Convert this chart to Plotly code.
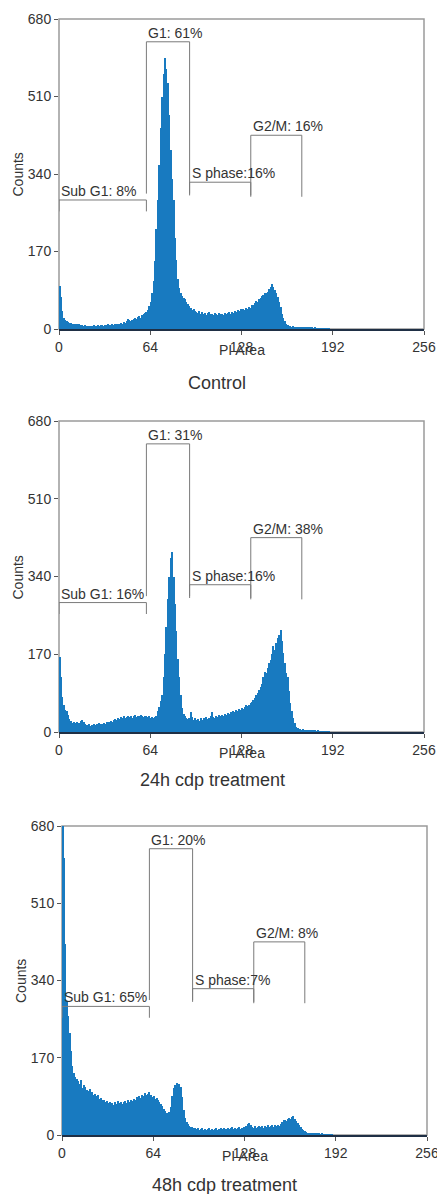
import plotly.graph_objects as go

# ---------------- data ----------------
control_counts = [
    95, 70, 40, 25, 20, 17, 15, 14, 13, 12, 12, 10, 11, 9, 10, 8, 9, 7, 8, 6,
    7, 6, 7, 6, 8, 7, 6, 8, 7, 9, 8, 7, 9, 8, 10, 9, 8, 10, 9, 11,
    10, 12, 11, 13, 12, 15, 14, 18, 22, 20, 17, 19, 22, 24, 21, 26, 28, 25, 30, 33,
    36, 38, 42, 50, 60, 78, 105, 150, 220, 283, 360, 440, 510, 560, 595, 570, 539, 470, 393, 330,
    283, 200, 151, 110, 90, 80, 72, 68, 66, 60, 55, 50, 45, 42, 44, 40, 38, 36, 40, 34,
    37, 33, 36, 31, 35, 38, 32, 34, 30, 36, 33, 31, 35, 32, 34, 30, 36, 33, 35, 37,
    34, 38, 36, 40, 37, 41, 39, 43, 40, 44, 42, 46, 43, 48, 45, 52, 53, 58, 62, 60,
    65, 67, 72, 75, 78, 80, 82, 88, 92, 98, 93, 85, 78, 71, 60, 48, 34, 25, 18, 12,
    9, 7, 6, 5, 6, 5, 4, 5, 4, 5, 4, 4, 3, 4, 3, 4, 3, 3, 2, 3,
    2, 2, 2, 1, 2, 1, 1, 1, 1, 1,
]

h24_counts = [
    165, 120, 77, 60, 48, 45, 38, 28, 23, 20, 22, 19, 21, 18, 20, 24, 26, 22, 18, 16,
    15, 17, 14, 16, 18, 15, 17, 16, 19, 17, 18, 20, 18, 21, 19, 22, 24, 22, 26, 28,
    27, 30, 29, 32, 30, 34, 31, 33, 36, 32, 35, 31, 34, 37, 33, 36, 34, 37, 35, 33,
    36, 34, 32, 35, 31, 33, 30, 32, 36, 45, 55, 68, 80, 120, 170, 230, 290, 340, 380, 394,
    340, 280, 220, 160, 120, 80, 52, 40, 34, 30, 28, 30, 44, 32, 27, 30, 26, 29, 25, 31,
    27, 30, 26, 32, 28, 30, 34, 44, 33, 30, 35, 32, 37, 34, 38, 36, 40, 37, 42, 39,
    44, 41, 46, 43, 48, 45, 50, 48, 52, 50, 55, 58, 56, 60, 63, 66, 70, 74, 80, 86,
    92, 98, 105, 120, 132, 128, 140, 150, 157, 170, 187, 180, 195, 205, 212, 222, 200, 173, 150, 130,
    121, 90, 63, 45, 31, 20, 11, 8, 6, 7, 5, 6, 5, 4, 5, 4, 4, 3, 3, 3,
    2, 3, 2, 2, 2, 1, 1, 1, 1, 1,
]

h48_counts = [
    700, 610, 420, 295, 262, 225, 185, 152, 136, 128, 124, 118, 112, 120, 104, 110, 106, 100, 96, 102,
    92, 95, 88, 90, 85, 87, 80, 82, 77, 78, 72, 75, 70, 73, 68, 71, 66, 72, 69, 74,
    70, 73, 68, 72, 74, 70, 76, 72, 78, 74, 80, 77, 83, 79, 86, 82, 88, 85, 92, 87,
    90, 95, 88, 84, 86, 80, 82, 76, 72, 68, 64, 58, 52, 48, 45, 50, 62, 85, 103, 110,
    114, 108, 112, 106, 84, 55, 37, 28, 24, 20, 18, 17, 15, 16, 13, 15, 12, 14, 15, 12,
    14, 11, 13, 15, 12, 14, 11, 13, 15, 12, 14, 16, 13, 15, 12, 14, 16, 13, 15, 17,
    14, 16, 13, 15, 17, 14, 16, 18, 15, 20, 24, 26, 22, 18, 16, 19, 15, 18, 20, 17,
    19, 16, 20, 18, 21, 17, 20, 22, 18, 21, 19, 22, 20, 24, 28, 32, 33, 30, 35, 38,
    36, 40, 42, 36, 30, 26, 22, 17, 13, 11, 8, 6, 5, 5, 4, 4, 3, 4, 3, 3,
    3, 2, 3, 2, 2, 2, 1, 1, 1, 1,
]

panel_titles = ["Control", "24h cdp treatment", "48h cdp treatment"]

gate_names = ["Sub G1", "G1", "S phase", "G2/M"]
gate_sep = [": ", ": ", ":", ": "]
gate_start = [0, 61.3, 91.6, 134.5]
gate_end = [61.3, 91.6, 134.5, 170.3]
gate_level = [283, 630, 322, 425]
gate_leg_bottom = [258, 297, 293, 290]

control_pct = [8, 61, 16, 16]
h24_pct = [16, 31, 16, 38]
h48_pct = [65, 20, 7, 8]

x_ticks = [0, 64, 128, 192, 256]
y_ticks = [0, 170, 340, 510, 680]

# ---------------- layout (pixels) ----------------
W, H = 437, 1194
panels_px = [  # x0, x1, ytop, ybottom
    (59, 424, 19, 329),
    (59, 424, 421, 732),
    (62, 427, 826, 1135),
]
caption_px = [(217, 383), (212, 780), (224, 1185)]
counts_px = [(17.5, 175), (17.5, 578), (21, 981)]

FONT = "Liberation Sans, Arial, sans-serif"
TXT = "#333333"
BLUE = "rgb(24,122,192)"
GATE = "#7a7a7a"
FRAME = "#9a9a9a"

all_counts = [control_counts, h24_counts, h48_counts]
all_pct = [control_pct, h24_pct, h48_pct]

fig = go.Figure()
annotations = []
shapes = []

for i, (counts, pct) in enumerate(zip(all_counts, all_pct)):
    xa = "x" if i == 0 else f"x{i+1}"
    ya = "y" if i == 0 else f"y{i+1}"
    shapes.append(dict(
        type="rect", xref=f"{xa} domain", yref=f"{ya} domain",
        x0=0, x1=1, y0=0, y1=1, line=dict(color=FRAME, width=1.5), layer="below",
    ))
    fig.add_trace(go.Bar(
        x=list(range(len(counts))), y=counts, width=1, offset=0,
        marker=dict(color=BLUE, line=dict(width=0)),
        xaxis=xa, yaxis=ya, showlegend=False, hoverinfo="skip",
    ))
    for g in range(len(gate_names)):
        fig.add_trace(go.Scatter(
            x=[gate_start[g], gate_start[g], gate_end[g], gate_end[g]],
            y=[gate_leg_bottom[g], gate_level[g], gate_level[g], gate_leg_bottom[g]],
            mode="lines", line=dict(color=GATE, width=1),
            xaxis=xa, yaxis=ya, showlegend=False, hoverinfo="skip", cliponaxis=False,
        ))
        annotations.append(dict(
            x=gate_start[g], y=gate_level[g], xref=xa, yref=ya,
            text=f"{gate_names[g]}{gate_sep[g]}{pct[g]}%",
            showarrow=False, xanchor="left", yanchor="bottom", xshift=0, yshift=-1,
            font=dict(family=FONT, size=14, color=TXT),
        ))
    annotations.append(dict(
        x=128, y=0, xref=xa, yref=ya, text="PI Area", showarrow=False,
        xanchor="center", yanchor="middle", yshift=-21,
        font=dict(family=FONT, size=14, color=TXT),
    ))
    cx, cy = counts_px[i]
    annotations.append(dict(
        x=cx / W, y=1 - cy / H, xref="paper", yref="paper", text="Counts",
        showarrow=False, textangle=-90, xanchor="center", yanchor="middle",
        font=dict(family=FONT, size=14, color=TXT),
    ))
    tx, ty = caption_px[i]
    annotations.append(dict(
        x=tx / W, y=1 - ty / H, xref="paper", yref="paper", text=panel_titles[i],
        showarrow=False, xanchor="center", yanchor="middle",
        font=dict(family=FONT, size=18, color=TXT),
    ))

layout_axes = {}
for i, (x0, x1, yt, yb) in enumerate(panels_px):
    xk = "xaxis" if i == 0 else f"xaxis{i+1}"
    yk = "yaxis" if i == 0 else f"yaxis{i+1}"
    ya = "y" if i == 0 else f"y{i+1}"
    xa = "x" if i == 0 else f"x{i+1}"
    layout_axes[xk] = dict(
        domain=[x0 / W, x1 / W], anchor=ya, range=[0, 256], automargin=False,
        tickvals=x_ticks, ticktext=[str(v) for v in x_ticks],
        ticks="outside", ticklen=4, tickcolor="#555", ticklabeloverflow="allow",
        showline=True, mirror=False, linecolor="#1f2f45", linewidth=1.5,
        showgrid=False, zeroline=False,
        tickfont=dict(family=FONT, size=14, color=TXT),
    )
    layout_axes[yk] = dict(
        domain=[1 - yb / H, 1 - yt / H], anchor=xa, range=[0, 680], automargin=False,
        tickvals=y_ticks, ticktext=[str(v) for v in y_ticks],
        ticks="outside", ticklen=4, tickcolor="#555", ticklabeloverflow="allow",
        showline=False, showgrid=False, zeroline=False,
        tickfont=dict(family=FONT, size=14, color=TXT),
    )

fig.update_layout(
    template="none",
    width=W, height=H,
    margin=dict(l=0, r=0, t=0, b=0, pad=0),
    paper_bgcolor="white", plot_bgcolor="white",
    bargap=0, showlegend=False,
    annotations=annotations,
    shapes=shapes,
    **layout_axes,
)

fig.write_html(
    "out.html",
    config={"displayModeBar": False},
    post_script="document.body.style.margin='0';document.body.style.overflow='hidden';",
)
